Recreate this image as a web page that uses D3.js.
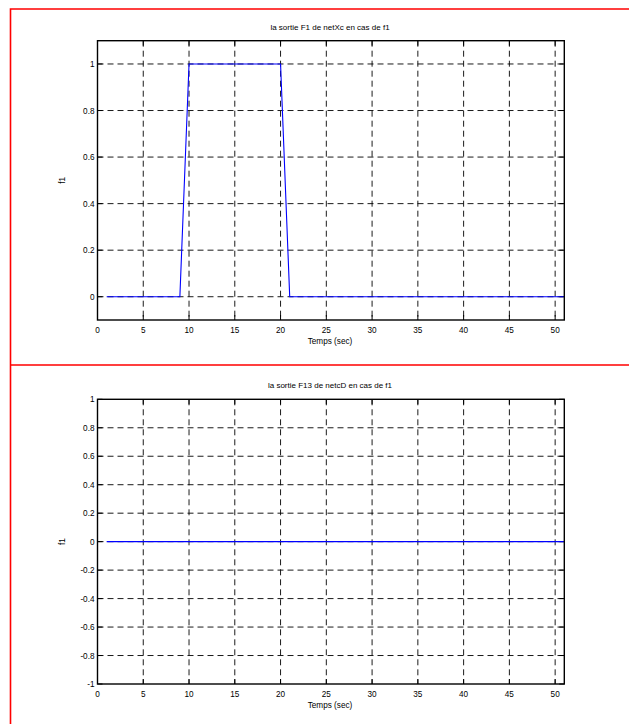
<!DOCTYPE html>
<html>
<head>
<meta charset="utf-8">
<script src="https://cdn.jsdelivr.net/npm/d3@7"></script>
<style>
  body { margin: 0; background: white; }
  svg text { font-family: "Liberation Sans Narrow", "Liberation Sans", Arial, sans-serif; fill: #000; }
</style>
</head>
<body>
<div id="chart"></div>
<script>
// time samples 1..51 s
const temps = [1,2,3,4,5,6,7,8,9,10,11,12,13,14,15,16,17,18,19,20,21,22,23,24,25,26,27,28,29,30,31,32,33,34,35,36,37,38,39,40,41,42,43,44,45,46,47,48,49,50,51]
const f1_netXc = [0,0,0,0,0,0,0,0,0,1,1,1,1,1,1,1,1,1,1,1,0,0,0,0,0,0,0,0,0,0,0,0,0,0,0,0,0,0,0,0,0,0,0,0,0,0,0,0,0,0,0]
const f13_netcD = [0,0,0,0,0,0,0,0,0,0,0,0,0,0,0,0,0,0,0,0,0,0,0,0,0,0,0,0,0,0,0,0,0,0,0,0,0,0,0,0,0,0,0,0,0,0,0,0,0,0,0]

const x_ticks = [0,5,10,15,20,25,30,35,40,45,50]
const y_ticks_top = [0,0.2,0.4,0.6,0.8,1]
const y_ticks_bottom = [-1,-0.8,-0.6,-0.4,-0.2,0,0.2,0.4,0.6,0.8,1]

const titles = ["la sortie F1 de netXc en cas de f1", "la sortie F13 de netcD en cas de f1"]

const width = 629
const height = 724

const svg = d3.select("#chart")
    .append("svg")
    .attr("width", width)
    .attr("height", height)

// red frame
svg.append("path")
    .attr("d", "M10.5,724 L10.5,9 L629,9 M10.5,365 L629,365")
    .attr("fill", "none")
    .attr("stroke", "#ff0000")
    .attr("stroke-width", 1.6)

function drawPanel(cfg) {
    const x = d3.scaleLinear().domain([0, 51]).range([97.5, 564.3])
    const y = d3.scaleLinear().domain(cfg.yDomain).range([cfg.bottom, cfg.top])

    const g = svg.append("g")

    // grid
    g.append("g")
        .selectAll("line")
        .data(x_ticks.filter(d => d > 0))
        .join("line")
        .attr("x1", d => x(d)).attr("x2", d => x(d))
        .attr("y1", cfg.top).attr("y2", cfg.bottom)
        .attr("stroke", "#000")
        .attr("stroke-width", 0.9)
        .attr("stroke-dasharray", "6,4")

    g.append("g")
        .selectAll("line")
        .data(cfg.yTicks.filter(d => d > cfg.yDomain[0] && d < cfg.yDomain[1]))
        .join("line")
        .attr("x1", x(0)).attr("x2", x(51))
        .attr("y1", d => y(d)).attr("y2", d => y(d))
        .attr("stroke", "#000")
        .attr("stroke-width", 0.9)
        .attr("stroke-dasharray", "6,4")

    // inward ticks on all four sides
    const tk = 5
    const ticks = g.append("g").attr("stroke", "#000").attr("stroke-width", 1)
    x_ticks.forEach(d => {
        ticks.append("line").attr("x1", x(d)).attr("x2", x(d)).attr("y1", cfg.bottom).attr("y2", cfg.bottom - tk)
        ticks.append("line").attr("x1", x(d)).attr("x2", x(d)).attr("y1", cfg.top).attr("y2", cfg.top + tk)
    })
    cfg.yTicks.forEach(d => {
        ticks.append("line").attr("x1", x(0)).attr("x2", x(0) + tk).attr("y1", y(d)).attr("y2", y(d))
        ticks.append("line").attr("x1", x(51)).attr("x2", x(51) - tk).attr("y1", y(d)).attr("y2", y(d))
    })

    // data line
    const line = d3.line()
        .x((d, i) => x(temps[i]))
        .y(d => y(d))

    g.append("path")
        .datum(cfg.values)
        .attr("d", line)
        .attr("fill", "none")
        .attr("stroke", "#0000ff")
        .attr("stroke-width", 1.1)

    // box
    g.append("rect")
        .attr("x", x(0)).attr("y", cfg.top)
        .attr("width", x(51) - x(0)).attr("height", cfg.bottom - cfg.top)
        .attr("fill", "none")
        .attr("stroke", "#000")
        .attr("stroke-width", 1.4)

    // tick labels
    g.append("g")
        .selectAll("text")
        .data(x_ticks)
        .join("text")
        .attr("x", d => x(d))
        .attr("y", cfg.bottom + 13)
        .attr("text-anchor", "middle")
        .attr("font-size", 8.2)
        .text(d => d)

    g.append("g")
        .selectAll("text")
        .data(cfg.yTicks)
        .join("text")
        .attr("x", x(0) - 3)
        .attr("y", d => y(d) + 3)
        .attr("text-anchor", "end")
        .attr("font-size", 8.2)
        .text(d => d)

    g.append("text")
        .attr("x", 330)
        .attr("y", cfg.top - 11)
        .attr("text-anchor", "middle")
        .attr("font-size", 8)
        .text(cfg.title)

    g.append("text")
        .attr("x", 330)
        .attr("y", cfg.bottom + 23.5)
        .attr("text-anchor", "middle")
        .attr("font-size", 8.2)
        .text("Temps (sec)")

    g.append("text")
        .attr("transform", `translate(65,${(cfg.top + cfg.bottom) / 2}) rotate(-90)`)
        .attr("text-anchor", "middle")
        .attr("font-size", 8.2)
        .text("f1")
}

drawPanel({ top: 40.7, bottom: 320, yDomain: [-0.1, 1.1], yTicks: y_ticks_top, values: f1_netXc, title: titles[0] })
drawPanel({ top: 399.3, bottom: 684, yDomain: [-1, 1], yTicks: y_ticks_bottom, values: f13_netcD, title: titles[1] })
</script>
</body>
</html>
